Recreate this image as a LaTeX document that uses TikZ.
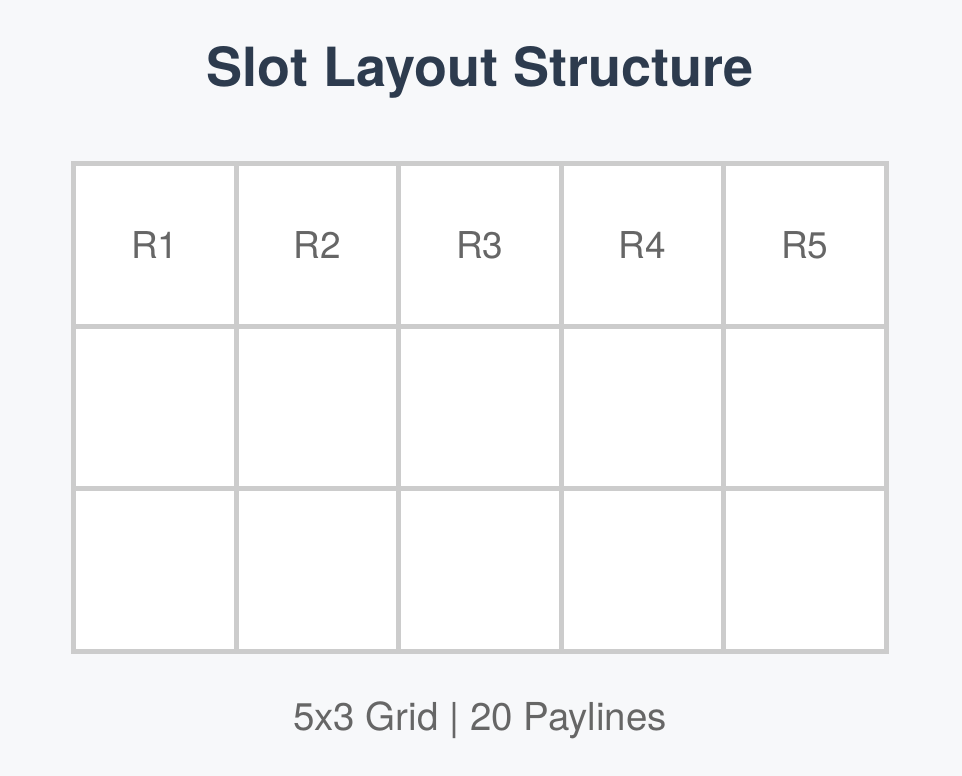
\documentclass[tikz,border=0pt]{standalone}
\usepackage{fontspec}
\setmainfont{TeX Gyre Heros}
\definecolor{bgpage}{HTML}{F7F8FA}
\definecolor{gridline}{HTML}{CCCCCC}
\definecolor{titleink}{HTML}{2D3B4E}
\definecolor{labelink}{HTML}{666666}
\tikzset{
  cell/.style={draw=gridline, line width=5pt, fill=white, minimum size=162.5pt, inner sep=0pt},
  reellabel/.style={text=labelink, font=\fontsize{37}{40}\selectfont},
}
\begin{document}
\begin{tikzpicture}[x=1pt, y=1pt]
\def\pw{962};
\def\ph{776};
\def\xo{154.75};
\def\yo{530.75};
\def\side{162.5};

\fill[bgpage] (0,0) rectangle (\pw,\ph);
\useasboundingbox (0,0) rectangle (\pw,\ph);

\node[anchor=base, text=titleink, font=\bfseries\fontsize{54}{60}\selectfont] (title) at (480, 689) {Slot Layout Structure};

\foreach \c in {1,...,5}
  \foreach \r in {1,2,3}
    \node[cell] (c\c\r) at ({\xo+(\c-1)*\side}, {\yo-(\r-1)*\side}) {};

\foreach \c in {1,...,5}
  \node[reellabel] (r\c) at (c\c1) {R\c};

\node[anchor=base, text=labelink, font=\fontsize{38.5}{42}\selectfont] (info) at (480, 45.3) {5x3 Grid | 20 Paylines};

\end{tikzpicture}
\end{document}
